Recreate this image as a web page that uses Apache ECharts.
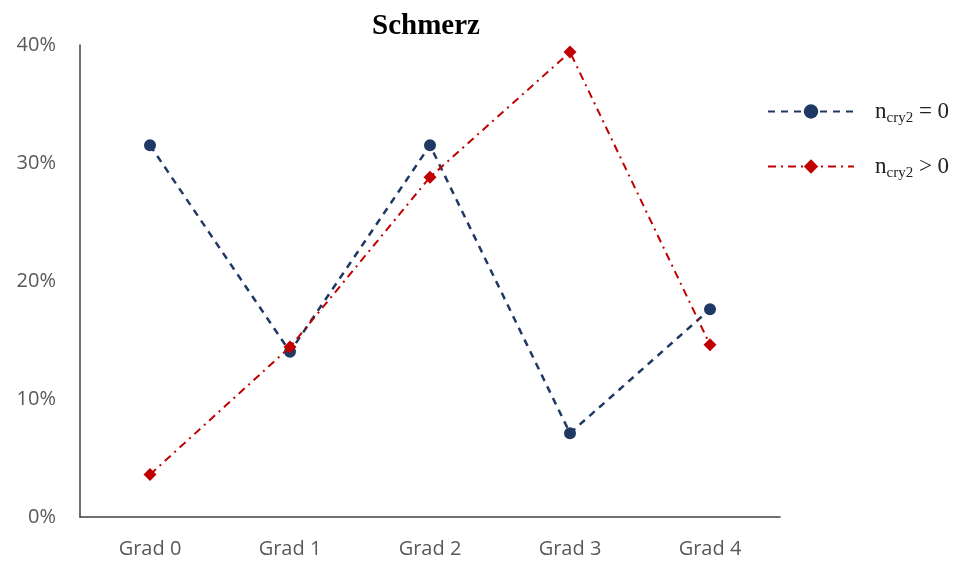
<!DOCTYPE html>
<html>
<head>
<meta charset="utf-8">
<script src="https://cdn.jsdelivr.net/npm/echarts@6/dist/echarts.min.js"></script>
<style>
  html, body { margin: 0; padding: 0; background: #fff; }
  #chart { width: 965px; height: 565px; }
</style>
</head>
<body>
<div id="chart"></div>
<script>
// Pain grade distribution (percent of patients) by group
const categories = ['Grad 0', 'Grad 1', 'Grad 2', 'Grad 3', 'Grad 4'];
const noCry2 = [31.5, 14.0, 31.5, 7.1, 17.6];   // n_cry2 = 0
const withCry2 = [3.6, 14.4, 28.8, 39.4, 14.6]; // n_cry2 > 0
const yTicks = [0, 10, 20, 30, 40];

const navy = '#1f3864';
const red = '#c00000';

const chart = echarts.init(document.getElementById('chart'));

const legendNames = {
  s0: '{n|n}{sub|cry2}{t| = 0}',
  s1: '{n|n}{sub|cry2}{t| > 0}'
};

chart.setOption({
  animation: false,
  backgroundColor: '#fff',
  title: {
    text: 'Schmerz',
    left: 421,
    top: 7,
    textAlign: 'center',
    textStyle: {
      fontFamily: 'Liberation Serif',
      fontWeight: 'bold',
      fontSize: 29,
      color: '#000'
    }
  },
  legend: {
    orient: 'vertical',
    left: 762,
    top: 92,
    itemWidth: 86,
    itemHeight: 18,
    itemGap: 26,
    data: ['s0', 's1'],
    formatter: name => legendNames[name],
    textStyle: {
      fontFamily: 'Liberation Serif',
      color: '#222',
      rich: {
        n: { fontFamily: 'Liberation Serif', fontSize: 23, color: '#222', lineHeight: 30, padding: [0, 0, 0, 16] },
        t: { fontFamily: 'Liberation Serif', fontSize: 23, color: '#222', lineHeight: 30 },
        sub: { fontFamily: 'Liberation Serif', fontSize: 15, color: '#222', lineHeight: 30, padding: [14, 0, 0, 0] }
      }
    }
  },
  grid: { left: 80, right: 185, top: 45, bottom: 48, containLabel: false },
  xAxis: {
    type: 'category',
    data: categories,
    boundaryGap: true,
    axisLine: { show: true, lineStyle: { color: '#404040', width: 1.5 } },
    axisTick: { show: false },
    axisLabel: {
      margin: 22,
      fontFamily: 'Open Sans',
      fontSize: 20,
      color: '#595959'
    },
    splitLine: { show: false }
  },
  yAxis: {
    type: 'value',
    min: yTicks[0],
    max: yTicks[yTicks.length - 1],
    interval: 10,
    axisLine: { show: true, lineStyle: { color: '#404040', width: 1.5 } },
    axisTick: { show: false },
    splitLine: { show: false },
    axisLabel: {
      margin: 24,
      fontFamily: 'Open Sans',
      fontSize: 20,
      color: '#595959',
      formatter: '{value}%'
    }
  },
  series: [
    {
      name: 's0',
      type: 'line',
      data: noCry2,
      symbol: 'circle',
      symbolSize: 12,
      itemStyle: { color: navy },
      lineStyle: { color: navy, width: 2.5, type: [7, 6] },
      z: 2
    },
    {
      name: 's1',
      type: 'line',
      data: withCry2,
      symbol: 'diamond',
      symbolSize: 13,
      itemStyle: { color: red },
      lineStyle: { color: red, width: 2, type: [8, 5, 2, 5] },
      z: 3
    }
  ]
});
</script>
</body>
</html>
